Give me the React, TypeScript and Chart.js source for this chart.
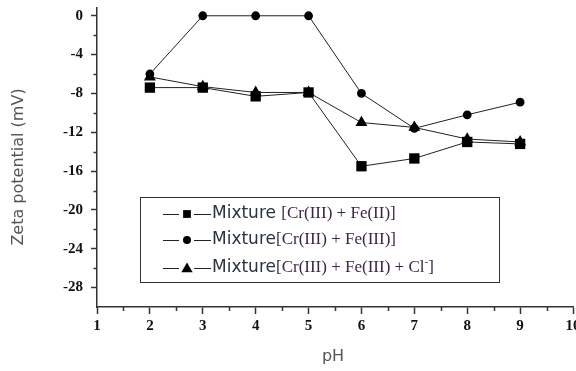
import React, { useEffect, useRef } from 'react';
import { Chart, registerables } from 'chart.js';

Chart.register(...registerables);

const pHValues = [2, 3, 4, 5, 6, 7, 8, 9];
const mixFeII = [-7.4, -7.4, -8.3, -7.9, -15.5, -14.7, -13.0, -13.2];
const mixFeIII = [-6.0, 0, 0, 0, -8.0, -11.6, -10.2, -8.9];
const mixFeIIICl = [-6.3, -7.3, -7.9, -7.9, -11.0, -11.5, -12.7, -13.0];

const yTickValues = [0, -4, -8, -12, -16, -20, -24, -28];
const yMinorValues = [-2, -6, -10, -14, -18, -22, -26];
const xTickValues = [1, 2, 3, 4, 5, 6, 7, 8, 9, 10];
const xMinorValues = [1.5, 2.5, 3.5, 4.5, 5.5, 6.5, 7.5, 8.5, 9.5];

const legendPrefixes = ['Mixture ', 'Mixture', 'Mixture'];
const legendFormulas = ['[Cr(III) + Fe(II)]', '[Cr(III) + Fe(III)]', '[Cr(III) + Fe(III) + Cl⁻]'];
const legendStyles = ['rect', 'circle', 'triangle'];

const xTitle = 'pH';
const yTitle = 'Zeta potential (mV)';

function drawMarker(ctx: CanvasRenderingContext2D, style: string, x: number, y: number, r: number) {
  ctx.beginPath();
  if (style === 'rect') {
    const s = r * Math.SQRT1_2;
    ctx.rect(x - s, y - s, 2 * s, 2 * s);
  } else if (style === 'circle') {
    ctx.arc(x, y, r, 0, Math.PI * 2);
  } else {
    const a = Math.PI / 2;
    for (let i = 0; i < 3; i++) {
      const ang = -a + (i * 2 * Math.PI) / 3;
      const px = x + r * Math.cos(ang);
      const py = y + r * Math.sin(ang) + r * 0.15;
      if (i === 0) ctx.moveTo(px, py);
      else ctx.lineTo(px, py);
    }
    ctx.closePath();
  }
  ctx.fill();
}

const extrasPlugin = {
  id: 'extras',
  afterDraw(chart: any) {
    const ctx: CanvasRenderingContext2D = chart.ctx;
    const xs = chart.scales.x;
    const ys = chart.scales.y;
    const area = chart.chartArea;
    ctx.save();
    // minor ticks
    ctx.strokeStyle = '#333';
    ctx.lineWidth = 1.5;
    ctx.beginPath();
    yMinorValues.forEach((v) => {
      const py = Math.round(ys.getPixelForValue(v)) + 0.5;
      ctx.moveTo(area.left - 3.5, py);
      ctx.lineTo(area.left, py);
    });
    xMinorValues.forEach((v) => {
      const px = Math.round(xs.getPixelForValue(v)) + 0.5;
      ctx.moveTo(px, area.bottom);
      ctx.lineTo(px, area.bottom + 4);
    });
    ctx.stroke();

    // axis titles
    ctx.fillStyle = '#555';
    ctx.font = '16px "DejaVu Sans"';
    ctx.textAlign = 'center';
    ctx.textBaseline = 'middle';
    ctx.fillText(xTitle, (area.left + area.right) / 2 - 2, 357);
    ctx.save();
    ctx.translate(19, 167);
    ctx.rotate(-Math.PI / 2);
    ctx.fillText(yTitle, 0, 0);
    ctx.restore();

    // legend box
    ctx.strokeStyle = '#333';
    ctx.lineWidth = 1;
    ctx.strokeRect(140.5, 197.5, 359, 85);
    const rowY = [214, 240, 268];
    legendPrefixes.forEach((prefix, i) => {
      const y = rowY[i];
      ctx.strokeStyle = '#222';
      ctx.lineWidth = 1;
      ctx.beginPath();
      ctx.moveTo(163, y + 0.5);
      ctx.lineTo(179, y + 0.5);
      ctx.moveTo(194, y + 0.5);
      ctx.lineTo(211, y + 0.5);
      ctx.stroke();
      ctx.fillStyle = '#000';
      const st = legendStyles[i];
      drawMarker(ctx, st, 187, y, st === 'rect' ? 5.5 : st === 'circle' ? 4 : 6.5);
      ctx.textAlign = 'left';
      ctx.textBaseline = 'middle';
      ctx.font = '17px "DejaVu Sans"';
      ctx.fillStyle = '#2a3340';
      ctx.fillText(prefix, 212, y);
      let x = 212 + ctx.measureText(prefix).width;
      ctx.fillStyle = '#3d2645';
      const parts = legendFormulas[i].split('⁻');
      parts.forEach((part, k) => {
        ctx.font = '17px "Liberation Serif"';
        ctx.fillText(part, x, y);
        x += ctx.measureText(part).width;
        if (k < parts.length - 1) {
          ctx.font = '11px "Liberation Serif"';
          ctx.fillText('-', x, y - 6);
          x += ctx.measureText('-').width;
        }
      });
    });
    ctx.restore();
  },
};

export default function App() {
  const canvasRef = useRef<HTMLCanvasElement | null>(null);

  useEffect(() => {
    if (!canvasRef.current) return;
    const mk = (vals: number[]) => pHValues.map((x, i) => ({ x, y: vals[i] }));
    const common = {
      borderColor: '#222',
      borderWidth: 1,
      pointBackgroundColor: '#000',
      pointBorderColor: '#000',
      pointBorderWidth: 0,
      showLine: true,
      fill: false,
      tension: 0,
      clip: false as const,
    };
    const chart = new Chart(canvasRef.current, {
      type: 'scatter',
      data: {
        datasets: [
          { ...common, label: legendPrefixes[1] + legendFormulas[1], data: mk(mixFeIII), pointStyle: 'circle', pointRadius: 4.4 },
          { ...common, label: legendPrefixes[0] + legendFormulas[0], data: mk(mixFeII), pointStyle: 'rect', pointRadius: 7.3 },
          { ...common, label: legendPrefixes[2] + legendFormulas[2], data: mk(mixFeIIICl), pointStyle: 'triangle', pointRadius: 6.9 },
        ],
      },
      options: {
        animation: false,
        responsive: false,
        layout: { autoPadding: false, padding: { left: 0, right: 3, top: 8, bottom: 0 } },
        plugins: { legend: { display: false }, tooltip: { enabled: false } },
        scales: {
          x: {
            type: 'linear',
            position: 'bottom',
            min: 1,
            max: 10,
            afterBuildTicks: (s: any) => {
              s.ticks = xTickValues.map((v) => ({ value: v }));
            },
            afterFit: (s: any) => {
              s.height = 64;
              s.paddingLeft = 0;
              s.paddingRight = 0;
            },
            grid: { drawOnChartArea: false, tickLength: 7, tickColor: '#333', tickWidth: 1.5 },
            border: { color: '#333', width: 1.5 },
            ticks: {
              font: { family: '"Liberation Serif"', weight: 'bold', size: 15 },
              color: '#111',
              padding: 3,
              maxRotation: 0,
              autoSkip: false,
            },
          },
          y: {
            type: 'linear',
            min: -30,
            max: 0.8,
            afterBuildTicks: (s: any) => {
              s.ticks = yTickValues.map((v) => ({ value: v }));
            },
            afterFit: (s: any) => {
              s.width = 97;
              s.paddingTop = 0;
              s.paddingBottom = 0;
            },
            grid: { drawOnChartArea: false, tickLength: 6, tickColor: '#333', tickWidth: 1.5 },
            border: { color: '#333', width: 1.5 },
            ticks: {
              font: { family: '"Liberation Serif"', weight: 'bold', size: 15 },
              color: '#111',
              padding: 8,
              autoSkip: false,
            },
          },
        },
      },
      plugins: [extrasPlugin],
    });
    return () => chart.destroy();
  }, []);

  return (
    <div style={{ position: 'absolute', left: 0, top: 0, width: 576, height: 371, background: '#fff' }}>
      <canvas ref={canvasRef} width={576} height={371} style={{ display: 'block' }} />
    </div>
  );
}
